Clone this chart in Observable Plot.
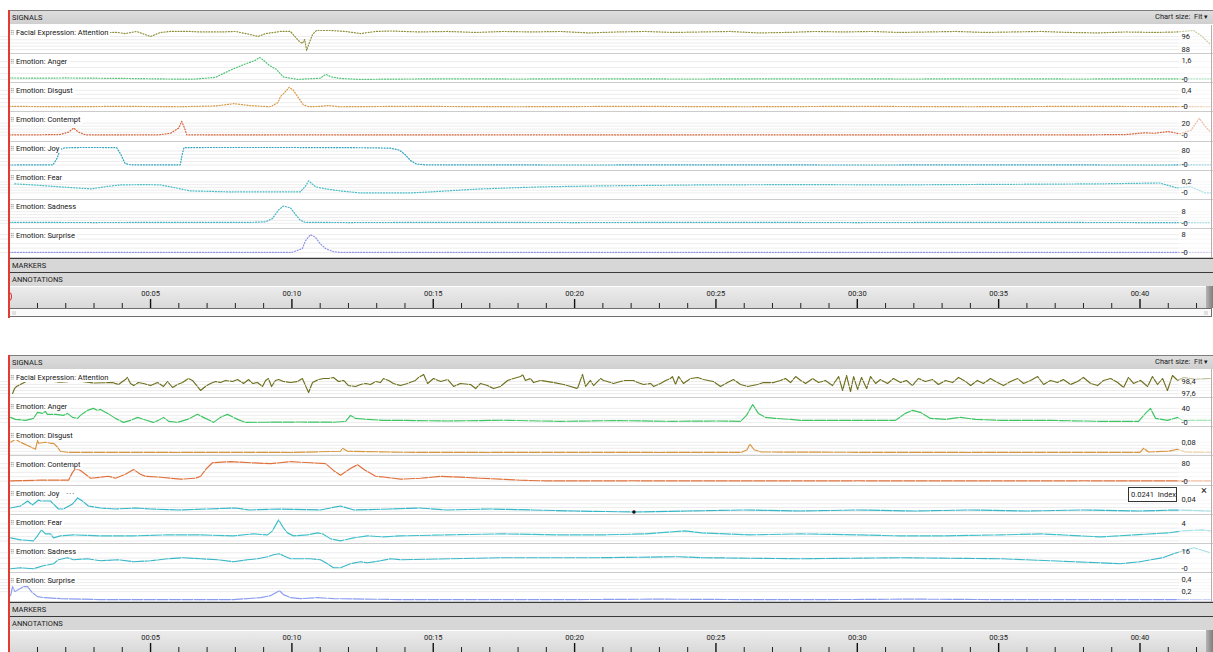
<!DOCTYPE html>
<html>
<head>
<meta charset="utf-8">
<script src="https://cdn.jsdelivr.net/npm/d3@7"></script>
<script src="https://cdn.jsdelivr.net/npm/@observablehq/plot@0.6"></script>
<style>
html,body{margin:0;padding:0;background:#fff;}
#root{position:relative;width:1213px;height:652px;overflow:hidden;font-family:Roboto,"Noto Sans",sans-serif;color:#1b1b1b;}
#root svg{display:block;position:absolute;left:0;}
</style>
</head>
<body>
<div id="root"></div>
<script>
// ---------- scale / time ----------
const W = 1213, T0 = -0.308, T1 = 42.6, ROW_H = 29.125, SVG_H = 29, FADE_T = 41.38;

// ---------- categories and tick labels ----------
const signalNames = ["Facial Expression: Attention","Emotion: Anger","Emotion: Disgust","Emotion: Contempt","Emotion: Joy","Emotion: Fear","Emotion: Sadness","Emotion: Surprise"];
const majorTicks = [5,10,15,20,25,30,35,40];
const majorLabels = ["00:05","00:10","00:15","00:20","00:25","00:30","00:35","00:40"];
const minorTicks = [1,2,3,4,6,7,8,9,11,12,13,14,16,17,18,19,21,22,23,24,26,27,28,29,31,32,33,34,36,37,38,39,41,42];

// ---------- top recording: [seconds, value] ----------
const topAttention = [[0,98.5],[1,98.3],[2,98.6],[3,98.4],[3.83,98.5],[4.1,97.8],[4.5,99.1],[5.0,96.0],[5.35,98.5],[5.7,99.1],[6.4,99.1],[6.77,98.8],[7.5,98.8],[8.0,99.1],[8.54,97.2],[8.8,96.0],[9.07,97.8],[9.6,99.1],[9.95,99.1],[10.23,93.5],[10.37,91.7],[10.45,94.2],[10.52,87.4],[10.62,92.3],[10.73,97.2],[10.87,99.7],[11.37,99.7],[11.9,99.1],[12.43,97.8],[12.96,99.1],[13.5,99.4],[14.5,98.8],[15.5,99.1],[16.5,98.5],[17.5,99.1],[18.5,98.8],[19.5,99.1],[20.5,98.2],[21.5,98.8],[22.5,99.1],[23.5,98.5],[24.5,98.8],[25.5,99.1],[26.5,98.2],[27.5,98.5],[28.5,99.1],[29.5,98.8],[30.5,99.1],[31.5,98.5],[32.5,98.8],[33.5,99.1],[34.5,98.5],[35.5,98.8],[36.5,99.1],[37.5,98.5],[38.5,98.2],[39.5,98.8],[40.5,98.5],[41.3,98.8],[41.9,99.7],[42.2,96.0],[42.5,91.0]];
const topAnger = [[0,0.12],[1,0.1],[2,0.12],[3,0.1],[4,0.08],[5,0.05],[6,0.02],[6.6,0.03],[7.3,0.17],[7.8,0.75],[8.3,1.25],[8.7,1.6],[8.86,1.85],[9.05,1.5],[9.2,1.18],[9.45,0.84],[9.7,0.2],[10.2,0.0],[10.6,0.05],[11.0,0.1],[11.2,0.42],[11.4,0.2],[11.7,0.08],[12.4,0.0],[14,0.03],[16,0.05],[18,0.03],[20,0.05],[22,0.04],[24,0.03],[26,0.04],[28,0.05],[30,0.04],[32,0.03],[34,0.05],[36,0.04],[38,0.03],[40,0.05],[42.5,0.04]];
const topDisgust = [[0,0.01],[2,0.0],[4,0.01],[6,0.0],[7.3,0.02],[7.95,0.075],[8.5,0.03],[9.2,0.0],[9.3,0.02],[9.5,0.1],[9.6,0.25],[9.75,0.35],[9.9,0.47],[10.05,0.4],[10.2,0.25],[10.4,0.05],[10.6,0.0],[11.0,0.01],[11.3,0.03],[11.7,0.0],[14,0.01],[18,0.0],[22,0.01],[26,0.0],[30,0.01],[34,0.0],[38,0.01],[42.5,0.0]];
const topContempt = [[0,0.5],[1,0.5],[1.8,1],[2.1,5],[2.28,11.7],[2.45,5],[2.7,0.5],[3.5,0.3],[4.5,0.5],[5.3,0.5],[5.7,3],[6.0,12],[6.1,23],[6.2,12],[6.28,0.5],[8,0.3],[10,0.5],[14,0.3],[18,0.5],[22,0.3],[26,0.5],[30,0.3],[34,0.5],[38,0.4],[39.5,1],[40.2,4],[40.5,3],[41.0,6],[41.4,2],[41.8,8],[42.1,28],[42.3,15],[42.5,5]];
const topJoy = [[0,0],[1.0,0.5],[1.55,1],[1.7,40],[1.8,88],[1.95,98],[2.5,100],[3.2,100],[3.8,99],[3.95,60],[4.1,8],[4.3,1],[5,0.5],[6.05,0.5],[6.12,60],[6.18,99],[7,100],[8,100],[9,100],[10,100],[11,99.5],[12,99],[13,98],[13.5,96],[13.8,85],[14.0,60],[14.2,25],[14.4,6],[14.7,1],[16,0.5],[20,0],[25,0.5],[30,0],[35,0.5],[40,0],[42.5,0.3]];
const topFear = [[0.2,0.164],[1,0.14],[1.8,0.109],[2.9,0.073],[3.5,0.12],[3.95,0.145],[4.8,0.15],[5.35,0.145],[5.9,0.09],[6.4,0.036],[7.8,0.018],[9.5,0.02],[10.3,0.02],[10.48,0.12],[10.59,0.22],[10.7,0.17],[10.84,0.11],[11.2,0.073],[11.7,0.036],[12.4,0.0],[14.2,0.0],[14.9,0.018],[16.7,0.073],[18.8,0.109],[20.9,0.127],[24.5,0.145],[28,0.15],[31.5,0.145],[35,0.155],[38.6,0.164],[40.7,0.18],[41.3,0.09],[41.8,0.11],[42.3,0.0],[42.5,0.0]];
const topSadness = [[0,0.6],[3,0.5],[6,0.6],[8.5,0.6],[9.07,1],[9.31,3.3],[9.53,9.3],[9.7,12],[9.95,10.7],[10.13,6],[10.3,2],[10.48,0.6],[12,0.5],[16,0.6],[20,0.5],[25,0.6],[30,0.5],[35,0.6],[40,0.5],[42.5,0.5]];
const topSurprise = [[0,0.1],[5,0.1],[10,0.1],[10.37,1.8],[10.48,5.3],[10.66,8],[10.84,6.7],[11.0,4],[11.19,1.8],[11.47,0.4],[11.72,0.1],[20,0.1],[30,0.1],[42.5,0.1]];

// ---------- bottom recording: [seconds, value] ----------
const bottomAttention = [[0.12,97.60],[0.19,97.93],[0.26,98.07],[0.6,98.4],[1.2,98.5],[1.8,98.35],[2.4,98.45],[3.0,98.3],[3.65,98.33],[3.87,98.20],[4.11,98.53],[4.18,98.67],[4.29,98.27],[4.40,98.13],[4.57,98.33],[4.75,98.27],[5.00,98.13],[5.25,98.33],[5.46,98.07],[5.60,98.40],[5.78,98.00],[5.95,98.20],[6.13,98.33],[6.34,98.60],[6.48,98.47],[6.66,98.07],[6.77,97.80],[6.94,98.07],[7.12,98.27],[7.30,98.40],[7.47,98.33],[7.65,98.47],[7.90,98.40],[8.08,98.53],[8.29,98.27],[8.47,98.53],[8.61,98.27],[8.78,98.33],[8.96,98.07],[9.07,98.47],[9.17,98.60],[9.28,98.07],[9.42,98.47],[9.53,98.53],[9.70,98.40],[9.95,98.33],[10.20,98.40],[10.37,98.60],[10.48,98.13],[10.59,97.67],[10.73,98.33],[10.94,98.53],[11.12,98.60],[11.29,98.60],[11.47,98.67],[11.65,98.40],[11.83,98.47],[12.00,98.13],[12.25,98.07],[12.43,98.20],[12.61,98.27],[12.78,98.20],[12.96,98.40],[13.13,98.33],[13.24,98.60],[13.42,98.47],[13.59,98.27],[13.84,98.13],[14.09,98.27],[14.37,98.47],[14.48,98.67],[14.66,98.87],[14.80,98.27],[15.01,98.60],[15.26,98.40],[15.51,98.53],[15.72,98.07],[15.96,98.27],[16.32,98.20],[16.50,97.93],[16.67,98.27],[16.92,98.13],[17.13,97.93],[17.38,98.07],[17.63,98.47],[17.84,98.60],[18.09,98.73],[18.16,98.87],[18.26,98.47],[18.44,98.60],[18.55,98.33],[18.79,98.47],[19.25,98.33],[19.61,98.20],[19.86,98.07],[20.10,97.93],[20.28,98.87],[20.39,98.07],[20.56,98.47],[20.67,98.13],[20.92,98.60],[21.02,98.47],[21.16,98.40],[21.38,98.27],[21.62,98.40],[21.80,98.47],[22.08,98.47],[22.23,98.33],[22.44,98.20],[22.69,98.27],[22.79,98.07],[23.04,98.27],[23.22,98.47],[23.39,98.60],[23.46,98.73],[23.57,98.20],[23.68,98.73],[23.85,98.27],[24.10,98.60],[24.35,98.67],[24.56,98.53],[24.91,98.40],[25.16,98.07],[25.41,98.33],[25.62,98.53],[25.87,98.20],[26.12,98.07],[26.47,98.20],[26.68,98.33],[27.04,98.33],[27.28,98.47],[27.46,98.60],[27.64,98.33],[27.82,98.73],[28.00,98.47],[28.17,98.27],[28.42,98.60],[28.63,98.33],[28.87,98.47],[29.12,98.13],[29.34,98.73],[29.48,97.80],[29.62,98.80],[29.76,97.73],[29.87,98.73],[30.01,97.87],[30.15,98.67],[30.33,97.93],[30.47,98.73],[30.65,98.27],[30.82,98.53],[31.07,98.27],[31.28,98.60],[31.53,98.33],[31.74,98.47],[31.95,98.13],[32.16,98.60],[32.41,98.40],[32.66,98.53],[32.87,98.20],[33.12,98.47],[33.37,98.33],[33.58,98.67],[33.83,98.40],[34.01,98.13],[34.25,98.47],[34.46,98.27],[34.71,98.60],[34.96,98.33],[35.17,98.13],[35.42,98.40],[35.67,98.60],[35.88,98.27],[36.13,98.47],[36.38,98.73],[36.59,98.20],[36.83,98.47],[37.08,98.33],[37.29,98.53],[37.54,98.20],[37.79,98.40],[38.00,98.67],[38.25,98.27],[38.50,98.13],[38.71,98.47],[38.96,98.60],[39.21,98.33],[39.42,98.00],[39.59,98.67],[39.77,98.27],[40.02,98.47],[40.27,98.07],[40.44,98.73],[40.62,98.20],[40.80,98.60],[40.97,97.80],[41.15,98.80],[41.33,98.47],[41.54,98.67],[41.96,98.55],[42.49,98.60]];
const bottomAnger = [[0.05,14.3],[0.22,8.6],[0.58,5.7],[0.86,11.4],[1.0,28.6],[1.18,25.7],[1.28,31.4],[1.35,22.9],[1.64,22.9],[1.92,20],[2.06,25.7],[2.24,14.3],[2.42,11.4],[2.52,20],[2.77,34.3],[2.98,40],[3.12,34.3],[3.23,37.1],[3.48,25.7],[3.76,11.4],[4.04,0],[4.29,5.7],[4.54,14.3],[4.75,8.6],[5.10,0],[5.28,5.7],[5.46,14.3],[5.64,2.9],[5.95,0],[6.31,8.6],[6.66,22.9],[6.87,14.3],[7.23,0],[7.47,14.3],[7.72,22.9],[8.08,8.6],[8.36,0],[9.14,0.5],[10.3,1],[11.47,0.5],[11.9,2.9],[12.07,20],[12.25,11.4],[12.67,8.6],[13.24,5.7],[13.84,5.7],[15.5,4],[17.5,6],[19.5,3],[21.5,5],[23.5,3],[25.0,4],[25.87,2.9],[26.08,20],[26.3,51],[26.5,25.7],[26.75,14.3],[27.1,11.4],[27.64,8.6],[28.0,5.7],[29.76,5.7],[31.35,5.7],[31.7,25.7],[31.95,34.3],[32.23,28.6],[32.59,11.4],[33.12,8.6],[33.65,14.3],[34.18,8.6],[35.07,5.7],[36.83,5.7],[38.6,2.9],[39.95,2.9],[40.13,20],[40.37,40],[40.55,11.4],[40.97,5.7],[41.33,14.3],[41.5,5.7],[42.49,5.7]];
const bottomDisgust = [[0.05,0.08],[0.22,0.1],[0.4,0.08],[0.86,0.04],[0.93,0.033],[1.0,0.093],[1.04,0.073],[1.28,0.08],[1.46,0.073],[1.57,0.073],[1.71,0.047],[1.81,0.02],[2.06,0.013],[4,0.013],[6,0.012],[8,0.013],[10,0.012],[11.72,0.02],[11.79,0.04],[11.97,0.02],[14,0.013],[17,0.012],[20,0.013],[23,0.012],[25.9,0.013],[26.1,0.03],[26.2,0.067],[26.35,0.03],[26.6,0.015],[30,0.013],[34,0.012],[38,0.013],[40.0,0.013],[40.13,0.04],[40.3,0.015],[41.0,0.02],[41.33,0.033],[41.6,0.015],[42.49,0.013]];
const bottomContempt = [[0.05,1],[1.11,4.4],[2.1,4.4],[2.24,40],[2.35,57.8],[2.52,48.9],[2.88,13.3],[3.23,17.8],[3.51,22.2],[3.76,13.3],[4.11,31.1],[4.40,53.3],[4.64,31.1],[4.82,22.2],[5.35,17.8],[6.06,8.9],[6.59,13.3],[6.77,22.2],[6.98,57.8],[7.19,84],[7.83,89],[8.54,84],[9.24,80],[9.95,89],[10.66,84],[11.19,80],[11.47,48.9],[11.72,26.7],[12.07,57.8],[12.32,75],[12.6,48.9],[12.96,22.2],[13.31,17.8],[13.84,8.9],[14.55,13],[15.26,22],[15.96,18],[16.67,13],[17.38,9],[18.09,4],[19,1],[22,1.5],[26,1],[30,1.5],[34,1],[38,1.5],[42.49,1]];
const bottomJoy = [[0.05,0.0294],[0.4,0.032],[0.65,0.0387],[0.82,0.0334],[1.04,0.04],[1.11,0.0387],[1.46,0.0387],[1.74,0.0281],[1.92,0.0281],[2.24,0.0347],[2.42,0.0427],[2.59,0.0387],[2.8,0.032],[3.23,0.0294],[3.76,0.0281],[4.5,0.0294],[5.0,0.0281],[6.0,0.0268],[7.0,0.0281],[8.0,0.0294],[8.5,0.0268],[9.5,0.0281],[11.0,0.0268],[11.72,0.032],[12.2,0.0268],[13.5,0.0281],[14.5,0.0294],[15.5,0.0268],[17,0.0281],[18.5,0.0268],[20,0.0254],[22.1,0.0241],[24,0.0254],[26,0.0268],[28,0.0254],[30,0.0268],[32,0.0254],[34,0.0268],[36,0.0254],[38,0.0268],[40,0.0254],[41.3,0.0268],[42.49,0.0254]];
const bottomFear = [[0.05,0.71],[0.4,0.24],[0.86,0.0],[1.0,1.18],[1.14,2.59],[1.28,1.65],[1.46,1.65],[1.57,0.71],[1.81,1.18],[2.27,1.41],[3.23,1.18],[4.4,1.18],[5.6,1.41],[6.77,1.41],[7.93,1.18],[8.64,1.65],[9.14,1.41],[9.31,2.35],[9.53,4.94],[9.7,3.06],[9.84,1.88],[10.06,1.18],[10.55,1.41],[10.91,1.88],[11.08,1.65],[11.37,0.47],[11.72,0.0],[12.18,0.71],[12.67,1.18],[13.24,0.94],[13.84,1.18],[15.5,1.41],[17.4,1.65],[19.5,1.41],[21.0,1.41],[22.5,1.65],[23.9,2.35],[24.5,1.88],[26.2,1.41],[28,1.65],[30,1.41],[31.5,1.18],[33,1.18],[35.1,1.41],[36.5,1.65],[38.6,0.94],[39.8,1.41],[41.0,1.88],[41.5,2.35],[42.2,2.59],[42.49,2.35]];
const bottomSadness = [[0.05,0.0],[0.4,0.9],[0.86,0.0],[1.21,2.8],[1.57,4.7],[1.74,8.5],[2.06,10.4],[2.27,8.5],[2.77,9.4],[3.23,7.5],[3.83,8.5],[4.4,6.6],[5.0,7.5],[5.6,9.4],[6.17,10.4],[6.77,9.4],[7.37,8.5],[7.93,6.6],[8.43,8.5],[8.78,9.4],[9.14,11.3],[9.35,13.2],[9.56,14.1],[9.7,12.2],[9.95,9.4],[10.3,9.4],[10.66,9.4],[11.01,8.5],[11.26,4.7],[11.47,0.9],[11.72,0.9],[12.07,4.7],[12.43,6.6],[12.67,5.6],[13.13,7.5],[13.49,9.4],[13.84,8.5],[15.6,9.4],[17.4,10.4],[20.9,10.4],[23.7,11.3],[24.5,10.4],[28,9.4],[31.5,10.4],[35.1,9.4],[38.6,5.6],[39.3,4.7],[40.0,6.6],[40.8,10.4],[41.3,15.1],[41.9,19.8],[42.49,15.1]];
const bottomSurprise = [[0.05,0.133],[0.12,0.283],[0.2,0.2],[0.5,0.283],[0.65,0.283],[0.82,0.183],[1.0,0.117],[1.21,0.1],[1.81,0.083],[3.23,0.067],[5.5,0.067],[7.93,0.067],[8.9,0.1],[9.24,0.133],[9.56,0.217],[9.7,0.15],[9.95,0.1],[10.3,0.083],[10.9,0.1],[11.47,0.083],[13.84,0.067],[17,0.067],[20,0.067],[23,0.075],[26,0.067],[29,0.067],[32,0.075],[35,0.067],[38,0.067],[41,0.067],[42.49,0.067]];

// ---------- value ranges and their labels ----------
const topDomains = [[88,96],[0,1.6],[0,0.4],[0,20],[0,80],[0,0.2],[0,8],[0,8]];
const bottomDomains = [[97.6,98.4],[0,40],[0,0.08],[0,80],[0.0241,0.04],[0,4],[0,16],[0.2,0.4]];
const topScaleLabels = [
  [{v:96,s:"96"},{v:88,s:"88"}],[{v:1.6,s:"1,6"},{v:0,s:"-0"}],[{v:0.4,s:"0,4"},{v:0,s:"-0"}],[{v:20,s:"20"},{v:0,s:"-0"}],
  [{v:80,s:"80"},{v:0,s:"-0"}],[{v:0.2,s:"0,2"},{v:0,s:"-0"}],[{v:8,s:"8"},{v:0,s:"-0"}],[{v:8,s:"8"},{v:0,s:"-0"}]];
const bottomScaleLabels = [
  [{v:98.4,s:"98,4"},{v:97.6,s:"97,6"}],[{v:40,s:"40"},{v:0,s:"-0"}],[{v:0.08,s:"0,08"}],[{v:80,s:"80"},{v:0,s:"-0"}],
  [{v:0.04,s:"0,04"}],[{v:4,s:"4"}],[{v:16,s:"16"},{v:0,s:"-0"}],[{v:0.4,s:"0,4"},{v:0.2,s:"0,2"}]];
const cursorPoint = [[22.1, 0.0241]];
const tooltipText = "0.0241 Index";

// ---------- layout & style (not data) ----------
const topAnchorY = [[36,49],[60,79],[90,106.5],[123,135],[150,164],[181,192],[211,222.5],[234,252]];
const bottomAnchorY = [[381,393],[408,422],[442,454],[463.5,481],[499,511],[523,540],[551,568],[579,591]];
const topColors = ["#8f8f3a","#4fc476","#d69a45","#d9643a","#2fa3bd","#45bcc6","#3fb3c4","#8e92e6"];
const bottomColors = ["#6f701e","#3cc463","#d8953f","#e0703a","#33b6c6","#3fbfc9","#3ab7c7","#8a9cf0"];

const root = document.getElementById("root");
function box(css, html) { const d = document.createElement("div"); d.style.cssText = "position:absolute;" + css; if (html) d.innerHTML = html; root.appendChild(d); return d; }
function place(node, top) { node.style.top = top + "px"; root.appendChild(node); return node; }

function rowPlot(rowTop, series, dom, anchors, color, labels, dotted, extra) {
  const mt = anchors[0] - rowTop, mb = rowTop + SVG_H - anchors[1];
  return Plot.plot({
    width: W, height: SVG_H, marginLeft: 0, marginRight: 0, marginTop: mt, marginBottom: mb,
    x: {domain: [T0, T1], axis: null},
    y: {domain: dom, axis: null},
    style: {background: "transparent", overflow: "hidden"},
    marks: [
      Plot.ruleY(d3.ticks(dom[0], dom[1], 3), {stroke: "#ededed"}),
      Plot.line(series, {x: d => d[0], y: d => d[1], stroke: color, strokeWidth: dotted ? 1.2 : 1.15,
        strokeDasharray: dotted ? "1,1.8" : "11,1.5"}),
      ...(extra || []),
      Plot.rect([0], {x1: () => FADE_T, x2: () => T1, fill: "#fff", fillOpacity: 0.55, insetTop: -mt, insetBottom: -mb}),
      Plot.text(labels, {frameAnchor: "right", dx: -32, y: d => d.v, text: d => d.s, textAnchor: "start",
        fontSize: 7.5, fill: "#1b1b1b", fontFamily: "Roboto"})
    ]
  });
}

function axisPlot(h) {
  return Plot.plot({
    width: W, height: h, marginLeft: 0, marginRight: 0, marginTop: 0, marginBottom: 0,
    x: {domain: [T0, T1], axis: null},
    y: {domain: [0, h], range: [0, h], axis: null},
    style: {background: "transparent"},
    marks: [
      Plot.ruleX(minorTicks, {x: d => d, y1: 17, y2: h, stroke: "#222", strokeWidth: 1}),
      Plot.ruleX(majorTicks, {x: d => d, y1: 13, y2: h, stroke: "#111", strokeWidth: 1.4}),
      Plot.text(majorTicks, {x: d => d, y: 7.5, text: (d, i) => majorLabels[i], fontSize: 7.5, fill: "#1b1b1b", fontFamily: "Roboto"})
    ]
  });
}

function panel(p) {
  box(`top:${p.header}px;left:9px;width:1204px;height:14px;box-sizing:border-box;background:linear-gradient(#dedede,#cfcfcf);border-top:1px solid #7d7d7d;font-size:7.5px;line-height:13px;padding-left:3px;`, "SIGNALS");
  box(`top:${p.header}px;left:1155px;height:14px;font-size:7.5px;line-height:14px;white-space:nowrap;`, "Chart size:&nbsp; Fit <span style='font-size:7px'>&#9662;</span>");
  for (let i = 0; i < 8; i++) {
    const top = p.rows + i * ROW_H;
    const extra = (p.cursor && i === 4) ? [Plot.dot(cursorPoint, {x: d => d[0], y: d => d[1], r: 1.8, fill: "#111"})] : [];
    const svg = rowPlot(top, p.series[i], p.domains[i], p.anchors[i], p.colors[i], p.labels[i], p.dotted, extra);
    place(svg, top);
    box(`top:${top + p.lblOff}px;left:10px;font-size:7.5px;line-height:9px;background:#fff;padding-right:2px;white-space:nowrap;color:#141414;`,
      `<span style="font-family:'DejaVu Sans';font-size:6px;color:#6a6a6a;margin-right:1.5px">&#10303;</span>${signalNames[i]}` + ((p.cursor && i === 4) ? "<span style='margin-left:7px;letter-spacing:1px'>&middot;&middot;&middot;</span>" : ""));
    box(`top:${top + ROW_H - 1}px;left:9px;width:1204px;height:1px;background:#cccccc;`);
  }
  box(`top:${p.rows}px;left:1211px;width:1px;height:${8 * ROW_H}px;background:#b0b0b0;`);
  box(`top:${p.markers}px;left:9px;width:1204px;height:14px;box-sizing:border-box;background:#d7d7d7;border-top:1px solid #3a3a3a;font-size:7.5px;line-height:13px;padding-left:3px;`, "MARKERS");
  box(`top:${p.markers + 14}px;left:9px;width:1204px;height:14px;box-sizing:border-box;background:#d7d7d7;border-top:1px solid #3a3a3a;font-size:7.5px;line-height:13px;padding-left:3px;`, "ANNOTATIONS");
  const at = p.markers + 28;
  box(`top:${at}px;left:9px;width:1204px;height:${p.axisH}px;box-sizing:border-box;background:linear-gradient(#ececec,#d9d9d9);border-top:1.5px solid #fff;`);
  box(`top:${at}px;left:1206px;width:7px;height:${p.axisH}px;background:linear-gradient(90deg,#b5b5b5,#7d7d7d);`);
  place(axisPlot(p.axisH), at);
  if (p.scroll) {
    box(`top:${at + p.axisH}px;left:9px;width:1203px;height:9px;box-sizing:border-box;background:#fafafa;border:1px solid #6f6f6f;`);
    box(`top:${at + p.axisH}px;left:12px;font-size:6px;line-height:9px;color:#999;font-family:'DejaVu Sans'`, "&#8286;&#8286;");
    box(`top:${at + p.axisH}px;left:1204px;font-size:6px;line-height:9px;color:#999;font-family:'DejaVu Sans'`, "&#8286;&#8286;");
  }
  box(`top:${p.header}px;left:8px;width:1.5px;height:${p.end - p.header}px;background:#e23b32;`);
  if (p.scroll) box(`top:${at + 6}px;left:8px;width:4px;height:9px;box-sizing:border-box;border:1.5px solid #e23b32;border-left:none;border-radius:0 5px 5px 0;`);
}

panel({header: 10, rows: 25, markers: 258, axisH: 22, scroll: true, end: 318, lblOff: 2.5,
  series: [topAttention, topAnger, topDisgust, topContempt, topJoy, topFear, topSadness, topSurprise],
  domains: topDomains, anchors: topAnchorY, colors: topColors, labels: topScaleLabels, dotted: true, cursor: false});

panel({header: 355, rows: 369, markers: 602, axisH: 22, scroll: false, end: 652, lblOff: 3.5,
  series: [bottomAttention, bottomAnger, bottomDisgust, bottomContempt, bottomJoy, bottomFear, bottomSadness, bottomSurprise],
  domains: bottomDomains, anchors: bottomAnchorY, colors: bottomColors, labels: bottomScaleLabels, dotted: false, cursor: true});

box("top:487px;left:1128px;width:49px;height:15px;box-sizing:border-box;background:#fff;border:1px solid #333;font-size:7.5px;line-height:13px;padding-left:2px;white-space:nowrap;", tooltipText.replace(" ", "&nbsp;&nbsp;"));
box("top:484px;left:1201px;font-size:11px;line-height:14px;color:#222;", "&#215;");
</script>
</body>
</html>
